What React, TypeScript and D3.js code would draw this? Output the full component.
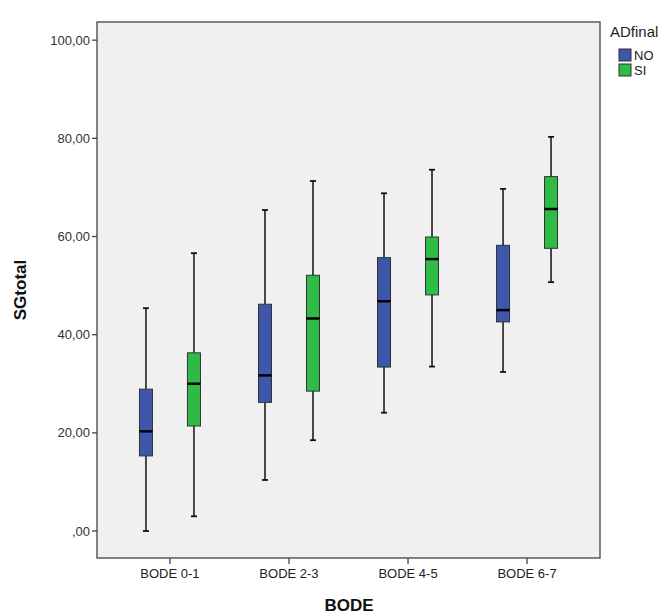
import React from "react";
import * as d3 from "d3";

const categories = ["BODE 0-1", "BODE 2-3", "BODE 4-5", "BODE 6-7"];
const groups = ["NO", "SI"];
const groupColors = ["#3e57ab", "#2fbb46"];
// [min, q1, median, q3, max]
const noStats = [
  [0, 15.3, 20.3, 28.9, 45.4],
  [10.4, 26.2, 31.7, 46.2, 65.4],
  [24.1, 33.4, 46.8, 55.7, 68.8],
  [32.4, 42.6, 45.0, 58.2, 69.7],
];
const siStats = [
  [3.0, 21.4, 30.0, 36.3, 56.6],
  [18.5, 28.5, 43.3, 52.1, 71.3],
  [33.5, 48.1, 55.4, 59.9, 73.6],
  [50.7, 57.6, 65.6, 72.2, 80.3],
];
const yTicks = [0, 20, 40, 60, 80, 100];
const tickLabels = [",00", "20,00", "40,00", "60,00", "80,00", "100,00"];

const left = 97, right = 600, top = 22, bottom = 558;
const font = "'Liberation Sans', Arial, sans-serif";

export default function App() {
  const y = d3.scaleLinear().domain([-5.5, 103.7]).range([bottom, top]);
  const x = d3.scalePoint<string>().domain(categories).range([left, right]).padding(0.613);
  const off = d3.scalePoint<string>().domain(groups).range([-24, 24]);
  const bw = 13;
  const capW = 6;
  const all = [noStats, siStats];
  return (
    <svg width={667} height={614} style={{ position: "absolute", left: 0, top: 0 }} fontFamily={font}>
      <rect x={0} y={0} width={667} height={614} fill="#fff" />
      <rect x={left} y={top} width={right - left} height={bottom - top} fill="#f0f0f0" stroke="#444" strokeWidth={1.3} />
      {yTicks.map((t, i) => (
        <g key={t}>
          <line x1={left - 5} x2={left} y1={y(t)} y2={y(t)} stroke="#444" strokeWidth={1.3} />
          <text x={left - 7} y={y(t)} dy="0.35em" textAnchor="end" fontSize={13} fill="#333">{tickLabels[i]}</text>
        </g>
      ))}
      {categories.map((c) => (
        <g key={c}>
          <line x1={x(c)!} x2={x(c)!} y1={bottom} y2={bottom + 6} stroke="#444" strokeWidth={1.3} />
          <text x={x(c)!} y={bottom + 20} textAnchor="middle" fontSize={13} fill="#222">{c}</text>
        </g>
      ))}
      {categories.map((c, ci) =>
        groups.map((g, gi) => {
          const s = all[gi][ci];
          const cx = x(c)! + off(g)!;
          return (
            <g key={c + g}>
              <line x1={cx} x2={cx} y1={y(s[4])} y2={y(s[3])} stroke="#111" strokeWidth={1.5} />
              <line x1={cx} x2={cx} y1={y(s[1])} y2={y(s[0])} stroke="#111" strokeWidth={1.5} />
              <line x1={cx - capW / 2} x2={cx + capW / 2} y1={y(s[4])} y2={y(s[4])} stroke="#111" strokeWidth={1.8} />
              <line x1={cx - capW / 2} x2={cx + capW / 2} y1={y(s[0])} y2={y(s[0])} stroke="#111" strokeWidth={1.8} />
              <rect x={cx - bw / 2} y={y(s[3])} width={bw} height={y(s[1]) - y(s[3])} fill={groupColors[gi]} stroke="#333" strokeWidth={1} />
              <line x1={cx - bw / 2} x2={cx + bw / 2} y1={y(s[2])} y2={y(s[2])} stroke="#000" strokeWidth={2.5} />
            </g>
          );
        })
      )}
      <text transform={`translate(26,290) rotate(-90)`} textAnchor="middle" fontSize={17} fontWeight="bold" fill="#111">SGtotal</text>
      <text x={349} y={611} textAnchor="middle" fontSize={17} fontWeight="bold" fill="#111">BODE</text>
      <text x={610} y={37} fontSize={15} fill="#222">ADfinal</text>
      {groups.map((g, i) => (
        <g key={g}>
          <rect x={619} y={49 + i * 15} width={12} height={12} fill={groupColors[i]} stroke="#333" strokeWidth={1} />
          <text x={634} y={55 + i * 15} dy="0.35em" fontSize={13} fill="#222">{g}</text>
        </g>
      ))}
    </svg>
  );
}
